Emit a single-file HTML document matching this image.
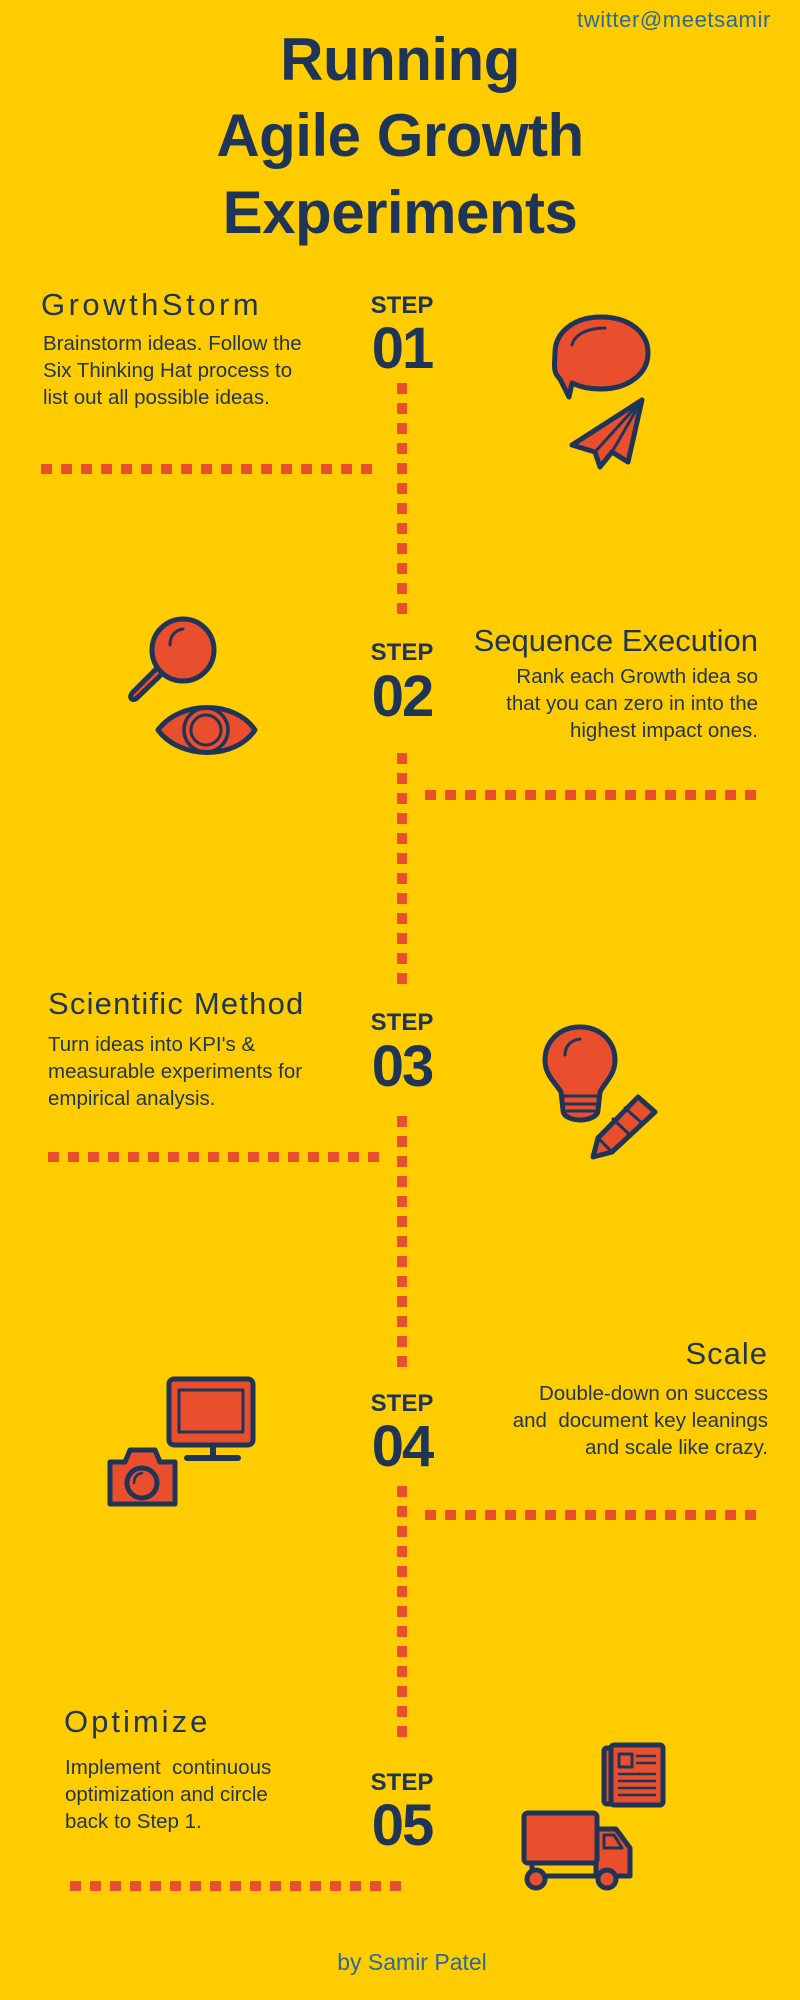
<!DOCTYPE html>
<html><head><meta charset="utf-8"><style>
*{margin:0;padding:0}
body{width:800px;height:2000px;background:#ffcc00;position:relative;overflow:hidden;font-family:"Liberation Sans",sans-serif;color:#1f3557}
.t{position:absolute;white-space:nowrap}
.title{left:0;width:800px;text-align:center;font-weight:bold;font-size:60px;letter-spacing:-0.5px}
.h{font-size:31px}
.b{font-size:20.5px;line-height:27px}
.step{font-weight:bold;font-size:24px;width:80px;text-align:center;left:362px}
.num{font-weight:bold;font-size:58px;width:80px;text-align:center;left:362px;letter-spacing:-2px}
.r{text-align:right}
</style></head><body>
<div class="t" style="left:577px;top:7px;font-size:22px;letter-spacing:0.6px;color:#2a6a9a">twitter@meetsamir</div>
<div class="t title" style="top:25px">Running</div>
<div class="t title" style="top:101px">Agile Growth</div>
<div class="t title" style="top:178px">Experiments</div>

<svg width="800" height="2000" style="position:absolute;left:0;top:0">
<g stroke="#e94e2d" stroke-width="10" fill="none">
<line x1="402" y1="383" x2="402" y2="620" stroke-dasharray="11 9"/>
<line x1="41" y1="469" x2="372" y2="469" stroke-dasharray="11 9"/>
<line x1="402" y1="753" x2="402" y2="985" stroke-dasharray="11 9"/>
<line x1="425" y1="795" x2="760" y2="795" stroke-dasharray="11 9"/>
<line x1="402" y1="1116" x2="402" y2="1368" stroke-dasharray="11 9"/>
<line x1="48" y1="1157" x2="382" y2="1157" stroke-dasharray="11 9"/>
<line x1="402" y1="1486" x2="402" y2="1745" stroke-dasharray="11 9"/>
<line x1="425" y1="1515" x2="760" y2="1515" stroke-dasharray="11 9"/>
<line x1="70" y1="1886" x2="404" y2="1886" stroke-dasharray="11 9"/>
</g>
<g stroke="#1f3557" stroke-width="5" fill="#e94e2d" stroke-linejoin="round" stroke-linecap="round">
<path d="M601 317 C630 317 648 333 648 353 C648 374 628 389 601 389 C590 389 580 387 572 383 L569 397 L560 379 C552 372 555 362 555 353 C555 333 573 317 601 317Z"/>
<path d="M572 345 C575 333 590 328 605 328" fill="none" stroke-width="3"/>
<path d="M642 400 L572 445 L595 452 L600 467 L612 452 L628 462 Z"/>
<path d="M642 400 L595 452 M642 400 L612 452" fill="none" stroke-width="3"/>
<path d="M160 665 L133 692 C128 697 132 702 137 698 L165 671Z"/>
<circle cx="183" cy="650" r="31"/>
<path d="M170 645 C170 635 176 630 183 629" fill="none" stroke-width="3"/>
<path d="M158 730 C180 700 235 700 255 730 C235 760 180 760 158 730Z"/>
<circle cx="206" cy="730" r="22" fill="none" stroke-width="3.5"/>
<circle cx="206" cy="730" r="15" fill="none" stroke-width="3"/>
<path d="M580 1027 C602 1027 615 1043 615 1060 C615 1075 605 1082 600 1092 L598 1110 C598 1118 585 1120 580 1120 C575 1120 563 1118 563 1110 L561 1092 C555 1082 545 1075 545 1060 C545 1043 558 1027 580 1027Z"/>
<path d="M564 1096 H597 M565 1104 H596 M567 1111 H594" stroke-width="3"/>
<path d="M565 1055 C565 1045 572 1040 580 1039" fill="none" stroke-width="3"/>
<path d="M638 1097 L655 1112 L612 1152 L593 1157 L598 1138 Z"/>
<path d="M598 1138 L612 1152 M625 1108 L643 1124 M613 1119 L630 1135" fill="none" stroke-width="3"/>
<rect x="169" y="1379" width="84" height="66" rx="5"/>
<rect x="179" y="1390" width="64" height="42" stroke-width="3"/>
<path d="M213 1447 V1457 M187 1458 H238" fill="none" stroke-width="6"/>
<path d="M110 1462 H125 L130 1450 H155 L160 1462 H175 V1504 H110Z"/>
<circle cx="142" cy="1483" r="15"/>
<path d="M134 1483 C134 1477 137 1474 142 1473" fill="none" stroke-width="2.5"/>
<rect x="604" y="1748" width="37" height="56" rx="3"/>
<rect x="611" y="1745" width="52" height="60" rx="3"/>
<rect x="619" y="1754" width="13" height="13" stroke-width="3"/>
<path d="M637 1756 H655 M637 1763 H655 M619 1774 H655 M619 1781 H655 M619 1788 H655 M619 1795 H655" stroke-width="2.5"/>
<path d="M596 1829 H616 L630 1848 V1876 H596Z"/>
<rect x="524" y="1813" width="73" height="50" rx="4"/>
<path d="M532 1863 V1876 H600" fill="none"/>
<path d="M604 1835 H614 L622 1848 H604Z" stroke-width="3"/>
<circle cx="536" cy="1879" r="9"/>
<circle cx="607" cy="1879" r="9"/>
</g>
</svg>

<div class="t h" style="left:41px;top:287px;letter-spacing:3.5px">GrowthStorm</div>
<div class="t b" style="left:43px;top:330px">Brainstorm ideas. Follow the<br>Six Thinking Hat process to<br>list out all possible ideas.</div>
<div class="t step" style="top:292px">STEP</div>
<div class="t num" style="top:315px">01</div>

<div class="t h r" style="right:42px;top:623px">Sequence Execution</div>
<div class="t b r" style="right:42px;top:663px">Rank each Growth idea so<br>that you can zero in into the<br>highest impact ones.</div>
<div class="t step" style="top:639px">STEP</div>
<div class="t num" style="top:663px">02</div>

<div class="t h" style="left:48px;top:986px;letter-spacing:1.2px">Scientific Method</div>
<div class="t b" style="left:48px;top:1031px">Turn ideas into KPI's &amp;<br>measurable experiments for<br>empirical analysis.</div>
<div class="t step" style="top:1009px">STEP</div>
<div class="t num" style="top:1033px">03</div>

<div class="t h r" style="right:32px;top:1336px;letter-spacing:1px">Scale</div>
<div class="t b r" style="right:32px;top:1380px">Double-down on success<br>and &nbsp;document key leanings<br>and scale like crazy.</div>
<div class="t step" style="top:1390px">STEP</div>
<div class="t num" style="top:1413px">04</div>

<div class="t h" style="left:64px;top:1704px;letter-spacing:3px">Optimize</div>
<div class="t b" style="left:65px;top:1754px">Implement &nbsp;continuous<br>optimization and circle<br>back to Step 1.</div>
<div class="t step" style="top:1769px">STEP</div>
<div class="t num" style="top:1792px">05</div>

<div class="t" style="left:0;width:824px;text-align:center;top:1949px;font-size:23px;color:#2a6a9a">by Samir Patel</div>
</body></html>
